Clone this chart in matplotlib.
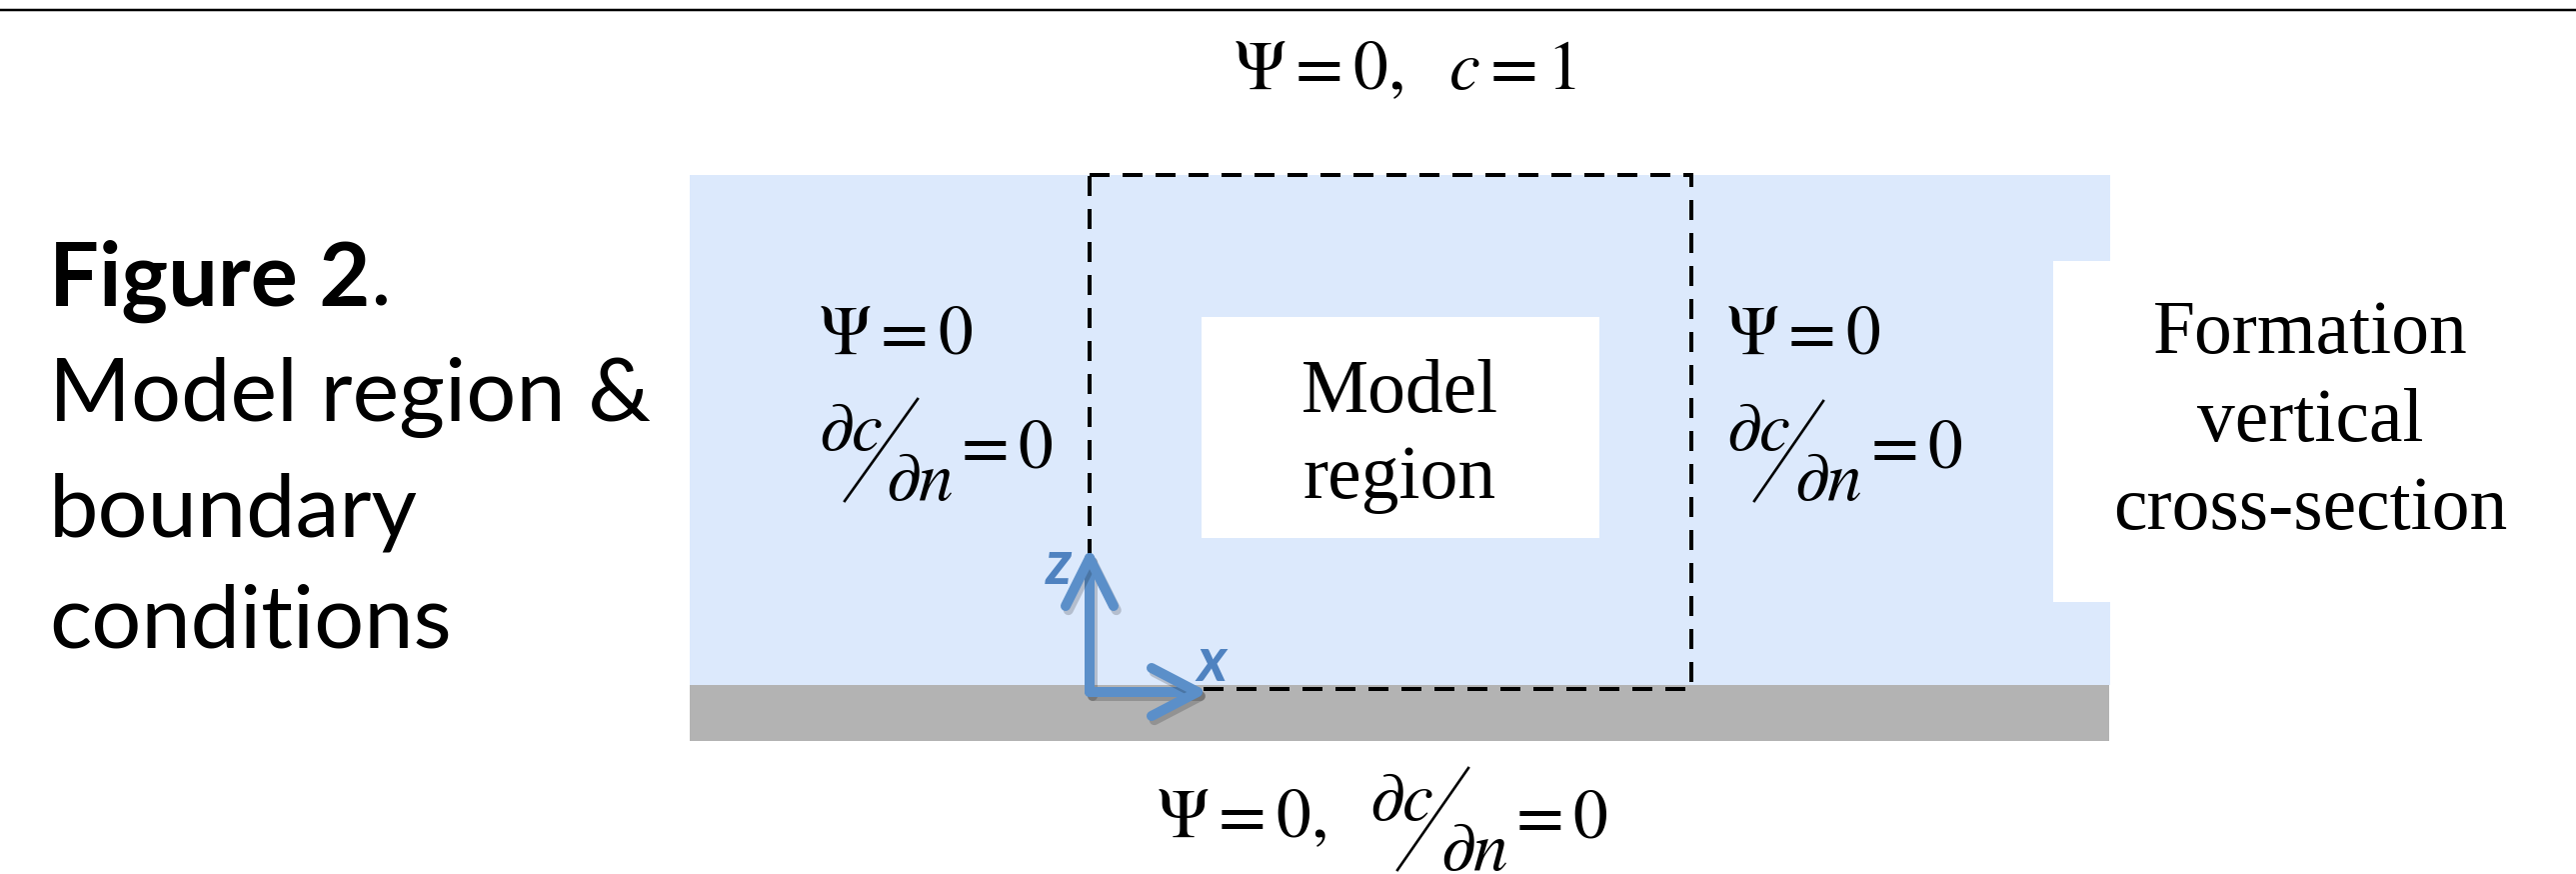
import matplotlib
matplotlib.use("Agg")
import matplotlib.pyplot as plt
from matplotlib.patches import Polygon, Rectangle
import matplotlib.patheffects as pe

plt.rcParams['mathtext.fontset'] = 'stix'

# ---- content ----
title_bold = "Figure 2"
title_rest = "."
title_lines = ["Model region &", "boundary", "conditions"]
model_label = ["Model", "region"]
formation_label = ["Formation", "vertical", "cross-section"]
top_bc = r"$\Psi = 0,\ \ c = 1$"
psi_bc = r"$\Psi = 0$"
dc_num = r"$\partial c$"
dn_den = r"$\partial n$"
eq_zero = r"$= 0$"
bottom_psi = r"$\Psi = 0,$"
axis_labels = ["z", "x"]

# ---- colours ----
BLUE_FILL = "#dce9fc"
GRAY = "#b3b3b3"
ARROW = "#5b8fc9"
ARROW_TXT = "#4f82c0"

W, H = 2577, 874
fig = plt.figure(figsize=(W / 100, H / 100), dpi=100)
ax = fig.add_axes([0, 0, 1, 1])
ax.set_xlim(0, W)
ax.set_ylim(H, 0)
ax.axis("off")

PT = 0.72  # points per pixel at 100 dpi

# top rule
ax.plot([0, W], [10, 10], color="black", lw=2.5 * PT, solid_capstyle="butt")

# formation (blue) with notch on the right
blue = Polygon([(690, 175), (2111, 175), (2111, 261), (2054, 261), (2054, 602),
                (2111, 602), (2111, 685), (690, 685)], closed=True,
               facecolor=BLUE_FILL, edgecolor="none", zorder=1)
ax.add_patch(blue)
# gray base
ax.add_patch(Rectangle((690, 685), 1420, 56, facecolor=GRAY, edgecolor="none", zorder=1))
# white label box
ax.add_patch(Rectangle((1202, 317), 398, 221, facecolor="white", edgecolor="none", zorder=2))
# dashed model region
ax.add_patch(Rectangle((1090, 175), 602, 514, facecolor="none", edgecolor="black",
                       lw=4 * PT, linestyle=(0, (5, 3.25)), zorder=3))

# ---- left title ----
sans = "Lato"
tsize = 63.5
ax.text(49, 306, title_bold, fontsize=tsize, fontweight="bold", family=sans,
        ha="left", va="baseline", zorder=5)
t = ax.text(49, 306, title_bold, fontsize=tsize, fontweight="bold", family=sans,
            ha="left", va="baseline", alpha=0)
fig.canvas.draw()
bb = t.get_window_extent()
x_end = ax.transData.inverted().transform((bb.x1, bb.y0))[0]
ax.text(x_end, 306, title_rest, fontsize=tsize, family=sans, ha="left", va="baseline")
for yb, line in zip([421, 537, 647], title_lines):
    ax.text(49, yb, line, fontsize=tsize, family=sans, ha="left", va="baseline")

# ---- serif labels ----
serif = "Liberation Serif"
ssize = 54.4
for yb, line in zip([412, 498], model_label):
    ax.text(1400, yb, line, fontsize=ssize, family=serif, ha="center", va="baseline", zorder=5)
for yb, line in zip([353, 441, 529], formation_label):
    ax.text(2311, yb, line, fontsize=ssize, family=serif, ha="center", va="baseline", zorder=5)

# ---- boundary conditions ----
msize = 50
ax.text(1406, 89, top_bc, fontsize=msize, ha="center", va="baseline")


def frac(x0, yb_num, yb_den, slash_top, slash_bot, x_den, x_eq, yb_eq):
    ax.text(x0, yb_num, dc_num, fontsize=msize, ha="left", va="baseline", zorder=5)
    ax.plot([slash_top[0], slash_bot[0]], [slash_top[1], slash_bot[1]],
            color="black", lw=2.6 * PT, zorder=5)
    ax.text(x_den, yb_den, dn_den, fontsize=msize, ha="left", va="baseline", zorder=5)
    ax.text(x_eq, yb_eq, eq_zero, fontsize=msize, ha="left", va="baseline", zorder=5)


# left side
ax.text(819, 353, psi_bc, fontsize=msize, ha="left", va="baseline", zorder=5)
frac(819, 450, 500, (918, 399), (845, 501), 886, 951, 468)
# right side
ax.text(1727, 353, psi_bc, fontsize=msize, ha="left", va="baseline", zorder=5)
frac(1727, 450, 500, (1824, 401), (1755, 501), 1795, 1861, 468)
# bottom
ax.text(1157, 837, bottom_psi, fontsize=msize, ha="left", va="baseline", zorder=5)
frac(1370, 820, 870, (1469, 768), (1398, 870), 1441, 1506, 837)

# ---- coordinate arrows ----
shadow = [pe.SimpleLineShadow(offset=(2, -3), shadow_color="black", alpha=0.18), pe.Normal()]
akw = dict(color=ARROW, lw=10 * PT, solid_capstyle="round", solid_joinstyle="round",
           zorder=6, path_effects=shadow)
ox, oy = 1090, 692
ax.plot([ox, ox], [oy, 558], **akw)
ax.plot([1066, 1090, 1114], [606, 558, 606], **akw)
ax.plot([ox, 1198], [oy, oy], **akw)
ax.plot([1152, 1198, 1152], [668, 692, 716], **akw)
ax.text(1059, 584, axis_labels[0], fontsize=44, family=sans, fontweight="bold",
        style="italic", color=ARROW_TXT, ha="center", va="baseline", zorder=7)
ax.text(1212, 681, axis_labels[1], fontsize=44, family=sans, fontweight="bold",
        style="italic", color=ARROW_TXT, ha="center", va="baseline", zorder=7)

fig.savefig("out.png", dpi=100, facecolor="white")
